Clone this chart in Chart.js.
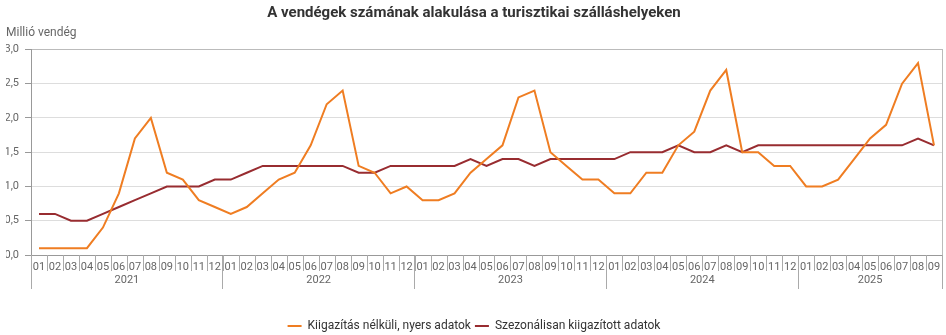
<!DOCTYPE html>
<html>
<head>
<meta charset="utf-8">
<script src="https://cdn.jsdelivr.net/npm/chart.js@4"></script>
<style>
  html, body { margin: 0; padding: 0; background: #fff; }
  #wrap { width: 946px; height: 335px; }
</style>
</head>
<body>
<div id="wrap"><canvas id="guestChart"></canvas></div>
<script>
// years and how many months each one has on the chart
const years = ['2021', '2022', '2023', '2024', '2025'];
const monthsPerYear = [12, 12, 12, 12, 9];
const monthNames = ['01', '02', '03', '04', '05', '06', '07', '08', '09', '10', '11', '12'];

// millió vendég
const rawGuests = [
    0.1, 0.1, 0.1, 0.1, 0.4, 0.9, 1.7, 2.0, 1.2, 1.1, 0.8, 0.7,
    0.6, 0.7, 0.9, 1.1, 1.2, 1.6, 2.2, 2.4, 1.3, 1.2, 0.9, 1.0,
    0.8, 0.8, 0.9, 1.2, 1.4, 1.6, 2.3, 2.4, 1.5, 1.3, 1.1, 1.1,
    0.9, 0.9, 1.2, 1.2, 1.6, 1.8, 2.4, 2.7, 1.5, 1.5, 1.3, 1.3,
    1.0, 1.0, 1.1, 1.4, 1.7, 1.9, 2.5, 2.8, 1.6
];
const adjustedGuests = [
    0.6, 0.6, 0.5, 0.5, 0.6, 0.7, 0.8, 0.9, 1.0, 1.0, 1.0, 1.1,
    1.1, 1.2, 1.3, 1.3, 1.3, 1.3, 1.3, 1.3, 1.2, 1.2, 1.3, 1.3,
    1.3, 1.3, 1.3, 1.4, 1.3, 1.4, 1.4, 1.3, 1.4, 1.4, 1.4, 1.4,
    1.4, 1.5, 1.5, 1.5, 1.6, 1.5, 1.5, 1.6, 1.5, 1.6, 1.6, 1.6,
    1.6, 1.6, 1.6, 1.6, 1.6, 1.6, 1.6, 1.7, 1.6
];

const monthLabels = [];
monthsPerYear.forEach(n => { for (let i = 0; i < n; i++) monthLabels.push(monthNames[i]); });

// year boundaries and centres, in category index units
const yearBounds = [-0.5];
const yearCentres = [];
monthsPerYear.forEach(n => {
    const start = yearBounds[yearBounds.length - 1];
    yearCentres.push(start + n / 2);
    yearBounds.push(start + n);
});
const monthBounds = monthLabels.map((m, i) => i - 0.5).concat([monthLabels.length - 0.5]);

Chart.defaults.font.family = 'Roboto, "Noto Sans", sans-serif';
Chart.defaults.color = '#666';

// short separators between month labels, placed with the x scale
const monthSeparators = {
    id: 'monthSeparators',
    afterDraw(chart) {
        const sx = chart.scales.x;
        const ctx = chart.ctx;
        ctx.save();
        ctx.strokeStyle = '#aaa';
        ctx.lineWidth = 1;
        ctx.beginPath();
        monthBounds.forEach(v => {
            const px = Math.round(sx.getPixelForValue(v)) + 0.5;
            ctx.moveTo(px, sx.top);
            ctx.lineTo(px, sx.top + 16);
        });
        ctx.stroke();
        ctx.restore();
    }
};

const hiddenGrid = { drawOnChartArea: false, tickLength: 16, color: 'rgba(0,0,0,0)' };

new Chart(document.getElementById('guestChart'), {
    type: 'line',
    data: {
        labels: monthLabels,
        datasets: [
            { label: 'Kiigazítás nélküli, nyers adatok', data: rawGuests, xAxisID: 'x', borderColor: '#ef7d22', backgroundColor: '#ef7d22', borderWidth: 2 },
            { label: 'Szezonálisan kiigazított adatok', data: adjustedGuests, xAxisID: 'x', borderColor: '#982c30', backgroundColor: '#982c30', borderWidth: 2 }
        ]
    },
    options: {
        responsive: true,
        maintainAspectRatio: false,
        animation: false,
        layout: { padding: { left: 6, right: 4, top: 0, bottom: -7 } },
        elements: { point: { radius: 0 }, line: { tension: 0 } },
        plugins: {
            title: {
                display: true,
                text: 'A vendégek számának alakulása a turisztikai szálláshelyeken',
                color: '#333',
                font: { size: 15, weight: 'bold' },
                padding: { top: 4, bottom: 2 }
            },
            subtitle: {
                display: true,
                text: 'Millió vendég',
                align: 'start',
                color: '#666',
                font: { size: 12 },
                padding: { top: 2, bottom: 9 }
            },
            legend: {
                position: 'bottom',
                labels: {
                    usePointStyle: true,
                    pointStyle: 'line',
                    pointStyleWidth: 14,
                    color: '#333',
                    font: { size: 12 },
                    padding: 4
                }
            },
            tooltip: { enabled: false }
        },
        scales: {
            x: {
                offset: true,
                ticks: {
                    autoSkip: false,
                    maxRotation: 0,
                    padding: -9,
                    font: { size: 11, lineHeight: 1 }
                },
                grid: hiddenGrid,
                border: { color: '#999' },
                afterFit: s => { s.height = 18; }
            },
            yearLines: {
                type: 'linear',
                position: 'bottom',
                weight: -1,
                min: yearBounds[0],
                max: yearBounds[yearBounds.length - 1],
                afterBuildTicks: s => { s.ticks = yearBounds.map(v => ({ value: v })); },
                ticks: { display: false },
                grid: { drawOnChartArea: false, tickLength: 34, color: '#aaa' },
                border: { display: false },
                afterFit: s => { s.height = 0; }
            },
            years: {
                type: 'linear',
                position: 'bottom',
                weight: 1,
                min: yearBounds[0],
                max: yearBounds[yearBounds.length - 1],
                afterBuildTicks: s => { s.ticks = yearCentres.map(v => ({ value: v })); },
                ticks: {
                    autoSkip: false,
                    maxRotation: 0,
                    padding: -14,
                    font: { size: 11, lineHeight: 1 },
                    callback: v => years[yearCentres.indexOf(v)]
                },
                grid: hiddenGrid,
                border: { display: false },
                afterFit: s => { s.height = 43; }
            },
            y: {
                min: 0,
                max: 3,
                ticks: {
                    stepSize: 0.5,
                    padding: 6,
                    font: { size: 11 },
                    callback: v => v.toFixed(1).replace('.', ',')
                },
                grid: {
                    color: ctx => ctx.tick && ctx.tick.value === 3 ? '#bbb' : '#ddd',
                    tickColor: '#999',
                    tickLength: 6
                },
                border: { color: '#999' },
                afterFit: s => { s.width = 25; }
            },
            yRight: {
                position: 'right',
                min: 0,
                max: 3,
                ticks: { display: false },
                grid: { display: false },
                border: { color: '#bbb' },
                afterFit: s => { s.width = 0; }
            }
        }
    },
    plugins: [monthSeparators]
});
</script>
</body>
</html>
